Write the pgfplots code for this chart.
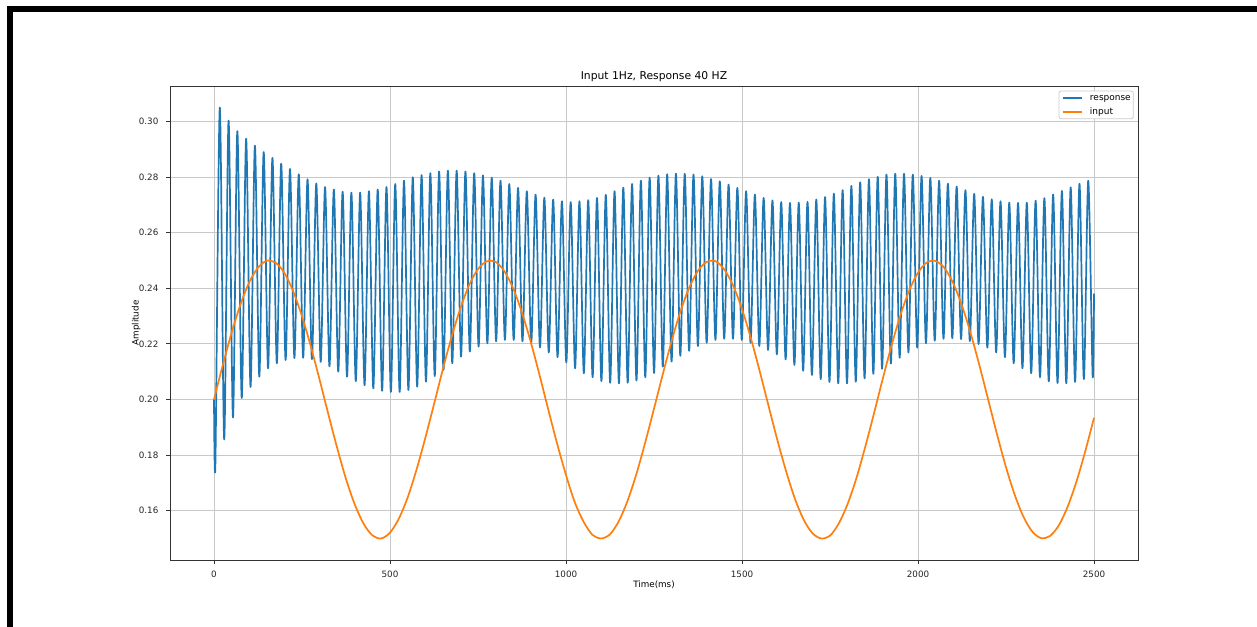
\documentclass[border=0pt]{standalone}
\usepackage{fontspec}
\setmainfont{DejaVu Sans}
\usepackage{pgfplots}
\pgfplotsset{compat=1.18}
\usepackage{pgfplotstable}

\definecolor{mplblue}{HTML}{1F77B4}
\definecolor{mplorange}{HTML}{FF7F0E}
\definecolor{gridgray}{HTML}{C8C8C8}
\definecolor{legframe}{HTML}{CCCCCC}

% response: start, initial dip, then alternating peaks and troughs
\pgfplotstableread{
t v
0 0.2000
4.0 0.1770
16.5 0.3050
29.0 0.1856
41.4 0.3003
53.9 0.1935
66.3 0.2965
78.8 0.2005
91.3 0.2938
103.8 0.2045
116.2 0.2913
128.7 0.2082
141.1 0.2890
153.6 0.2112
166.0 0.2869
178.5 0.2130
190.9 0.2848
203.4 0.2142
215.9 0.2829
228.4 0.2149
240.8 0.2810
253.3 0.2150
265.7 0.2792
278.2 0.2145
290.6 0.2777
303.1 0.2135
315.5 0.2764
328.0 0.2119
340.5 0.2755
353.0 0.2100
365.4 0.2747
377.9 0.2082
390.3 0.2744
402.8 0.2066
415.2 0.2744
427.7 0.2051
440.1 0.2749
452.6 0.2040
465.1 0.2755
477.6 0.2031
490.0 0.2764
502.5 0.2027
514.9 0.2775
527.4 0.2027
539.8 0.2787
552.3 0.2034
564.7 0.2799
577.2 0.2046
589.7 0.2807
602.2 0.2064
614.6 0.2814
627.1 0.2084
639.5 0.2820
652.0 0.2106
664.4 0.2823
676.9 0.2130
689.3 0.2823
701.8 0.2154
714.3 0.2820
726.8 0.2172
739.2 0.2814
751.7 0.2190
764.1 0.2806
776.6 0.2202
789.0 0.2798
801.5 0.2209
813.9 0.2787
826.4 0.2214
838.9 0.2775
851.4 0.2214
863.8 0.2761
876.3 0.2209
888.7 0.2749
901.2 0.2202
913.6 0.2737
926.1 0.2187
938.5 0.2726
951.0 0.2169
963.5 0.2719
976.0 0.2152
988.4 0.2713
1000.9 0.2133
1013.3 0.2710
1025.8 0.2112
1038.2 0.2713
1050.7 0.2094
1063.1 0.2717
1075.6 0.2080
1088.1 0.2725
1100.6 0.2066
1113.0 0.2736
1125.5 0.2060
1137.9 0.2749
1150.4 0.2058
1162.8 0.2762
1175.3 0.2060
1187.7 0.2775
1200.2 0.2068
1212.7 0.2787
1225.2 0.2080
1237.6 0.2798
1250.1 0.2095
1262.5 0.2805
1275.0 0.2118
1287.4 0.2810
1299.9 0.2136
1312.3 0.2812
1324.8 0.2157
1337.3 0.2812
1349.8 0.2175
1362.2 0.2809
1374.7 0.2192
1387.1 0.2803
1399.6 0.2204
1412.0 0.2793
1424.5 0.2214
1436.9 0.2785
1449.4 0.2218
1461.9 0.2773
1474.4 0.2218
1486.8 0.2761
1499.3 0.2214
1511.7 0.2749
1524.2 0.2204
1536.6 0.2737
1549.1 0.2192
1561.5 0.2725
1574.0 0.2178
1586.5 0.2716
1599.0 0.2162
1611.4 0.2710
1623.9 0.2144
1636.3 0.2707
1648.8 0.2124
1661.2 0.2708
1673.7 0.2103
1686.1 0.2711
1698.6 0.2088
1711.1 0.2719
1723.6 0.2073
1736.0 0.2728
1748.5 0.2063
1760.9 0.2740
1773.4 0.2058
1785.8 0.2753
1798.3 0.2058
1810.7 0.2768
1823.2 0.2064
1835.7 0.2781
1848.2 0.2076
1860.6 0.2792
1873.1 0.2092
1885.5 0.2801
1898.0 0.2110
1910.4 0.2809
1922.9 0.2129
1935.3 0.2812
1947.8 0.2150
1960.3 0.2812
1972.8 0.2169
1985.2 0.2809
1997.7 0.2186
2010.1 0.2804
2022.6 0.2202
2035.0 0.2797
2047.5 0.2211
2059.9 0.2787
2072.4 0.2218
2084.9 0.2776
2097.4 0.2220
2109.8 0.2766
2122.3 0.2217
2134.7 0.2753
2147.2 0.2210
2159.6 0.2740
2172.1 0.2199
2184.5 0.2729
2197.0 0.2186
2209.5 0.2720
2222.0 0.2169
2234.4 0.2713
2246.9 0.2152
2259.3 0.2708
2271.8 0.2130
2284.2 0.2707
2296.7 0.2112
2309.1 0.2708
2321.6 0.2094
2334.1 0.2715
2346.6 0.2080
2359.0 0.2724
2371.5 0.2065
2383.9 0.2737
2396.4 0.2059
2408.8 0.2750
2421.3 0.2058
2433.7 0.2763
2446.2 0.2063
2458.7 0.2776
2471.2 0.2073
2483.6 0.2787
2496.1 0.2085
2500.0 0.2381
}\response

% input signal, every 25 ms
\pgfplotstableread{
t v
0 0.2000
25 0.2124
50 0.2240
75 0.2341
100 0.2421
125 0.2474
150 0.2499
175 0.2492
200 0.2455
225 0.2389
250 0.2299
275 0.2191
300 0.2071
325 0.1946
350 0.1825
375 0.1714
400 0.1622
425 0.1553
450 0.1511
475 0.1500
500 0.1521
525 0.1571
550 0.1647
575 0.1746
600 0.1860
625 0.1983
650 0.2108
675 0.2225
700 0.2328
725 0.2412
750 0.2469
775 0.2497
800 0.2495
825 0.2461
850 0.2399
875 0.2312
900 0.2206
925 0.2087
950 0.1962
975 0.1840
1000 0.1728
1025 0.1630
1050 0.1560
1075 0.1513
1100 0.1500
1125 0.1515
1150 0.1562
1175 0.1636
1200 0.1732
1225 0.1845
1250 0.1967
1275 0.2091
1300 0.2210
1325 0.2316
1350 0.2402
1375 0.2463
1400 0.2495
1425 0.2497
1450 0.2467
1475 0.2409
1500 0.2325
1525 0.2221
1550 0.2103
1575 0.1979
1600 0.1856
1625 0.1743
1650 0.1644
1675 0.1568
1700 0.1519
1725 0.1500
1750 0.1510
1775 0.1554
1800 0.1624
1825 0.1717
1850 0.1829
1875 0.1950
1900 0.2075
1925 0.2195
1950 0.2303
1975 0.2392
2000 0.2456
2025 0.2493
2050 0.2498
2075 0.2473
2100 0.2418
2125 0.2337
2150 0.2236
2175 0.2120
2200 0.1996
2225 0.1872
2250 0.1756
2275 0.1656
2300 0.1577
2325 0.1524
2350 0.1501
2375 0.1509
2400 0.1547
2425 0.1614
2450 0.1704
2475 0.1813
2500 0.1934
}\sigin

\begin{document}
\begin{tikzpicture}
\fill[white] (0bp,0bp) rectangle (1257bp,627bp);
% window frame
\fill[black] (7bp,615bp) rectangle (1257bp,621bp);
\fill[black] (7bp,0bp) rectangle (13bp,621bp);
\begin{axis}[
  at={(170bp,67bp)}, anchor=south west,
  scale only axis, width=968bp, height=474bp,
  xmin=-125, xmax=2625, ymin=0.14225, ymax=0.31275,
  axis line style={black!80, line width=0.9bp},
  tick align=outside, major tick length=3.8bp,
  every tick/.style={black!80, line width=0.9bp},
  xtick pos=lower, ytick pos=lower,
  xtick={0,500,1000,1500,2000,2500},
  ytick={0.16,0.18,0.20,0.22,0.24,0.26,0.28,0.30},
  grid=major, major grid style={gridgray, line width=0.9bp},
  /pgf/number format/assume math mode=true,
  scaled y ticks=false, scaled x ticks=false,
  tick label style={font=\fontsize{8.8}{10}\selectfont, black!85},
  xticklabel style={/pgf/number format/1000 sep={}, anchor=north, inner sep=0pt, yshift=-7.4bp},
  yticklabel style={/pgf/number format/fixed, /pgf/number format/fixed zerofill,
    /pgf/number format/precision=2, anchor=east, inner sep=0pt, xshift=-7.6bp},
  title={Input 1Hz, Response 40 HZ},
  every axis title/.style={at={(axis description cs:0.5,1)}, anchor=base,
    yshift=6bp, inner sep=0pt, font=\fontsize{10.8}{12}\selectfont},
  xlabel={Time(ms)}, ylabel={Amplitude},
  every axis x label/.style={at={(axis description cs:0.5,0)}, yshift=-20.3bp,
    anchor=north, inner sep=0pt, font=\fontsize{8.8}{10}\selectfont},
  every axis y label/.style={at={(axis description cs:0,0.5)}, xshift=-29.3bp,
    rotate=90, anchor=south, inner sep=0pt, font=\fontsize{8.8}{10}\selectfont},
  legend style={at={(1,1)}, anchor=north east, xshift=-4.3bp, yshift=-4.7bp,
    draw=legframe, line width=0.8bp, rounded corners=2bp, fill=white,
    font=\fontsize{9}{10}\selectfont, inner xsep=2.6bp, inner ysep=2.6bp,
    /tikz/row sep=4.8bp, /tikz/column sep=7.3bp,
    nodes={inner sep=0pt, text height=6.8bp, text depth=2bp}},
  legend cell align=left,
  legend image code/.code={\draw[#1, line width=1.7bp] (0bp,0bp) -- (19.3bp,0bp);},
]
\addplot[mplblue, line width=1.7bp, line join=round, smooth] table[x=t, y=v] {\response};
\addlegendentry{response}
\addplot[mplorange, line width=1.7bp, line join=round, smooth] table[x=t, y=v] {\sigin};
\addlegendentry{input}
\end{axis}
\end{tikzpicture}
\end{document}
